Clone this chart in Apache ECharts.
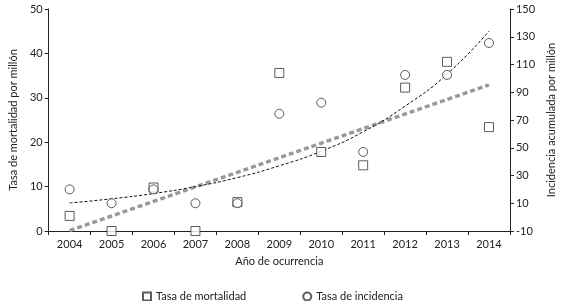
<!DOCTYPE html>
<html>
<head>
<meta charset="utf-8">
<script src="https://cdn.jsdelivr.net/npm/echarts@6/dist/echarts.min.js"></script>
<style>
  html, body { margin: 0; padding: 0; background: #fff; }
  #chart { width: 565px; height: 301px; }
</style>
</head>
<body>
<div id="chart"></div>
<script>
// años
const years = ['2004', '2005', '2006', '2007', '2008', '2009', '2010', '2011', '2012', '2013', '2014'];
// tasa de mortalidad por millón (eje izquierdo)
const mortalidad = [3.4, 0, 9.8, 0, 6.5, 35.6, 17.8, 14.8, 32.3, 38.1, 23.4];
// incidencia acumulada por millón (eje derecho)
const incidencia = [20, 10, 20, 10, 10, 74.5, 82.5, 47, 102.5, 102.5, 125.5];
// tendencia lineal de la mortalidad (extremos leídos)
const tendMortalidad = [['2004', 0.1], ['2014', 32.9]];
// tendencia exponencial de la incidencia
const tendIncidencia = [10.2, 13.2, 17, 22, 28.5, 37, 47.5, 61.5, 80, 103, 134];

const font = 'Lato, "Open Sans", sans-serif';
const chart = echarts.init(document.getElementById('chart'));

const option = {
  animation: false,
  textStyle: { fontFamily: font, color: '#222' },
  grid: { left: 41, right: 50, top: 9, bottom: 70 },
  legend: {
    left: 137,
    top: 286,
    itemGap: 56,
    itemWidth: 8,
    itemHeight: 8,
    textStyle: { fontFamily: font, fontSize: 11, color: '#222' },
    data: [
      { name: 'Tasa de mortalidad', icon: 'rect' },
      { name: 'Tasa de incidencia', icon: 'circle' }
    ]
  },
  xAxis: {
    type: 'category',
    data: years,
    boundaryGap: true,
    name: 'Año de ocurrencia',
    nameLocation: 'middle',
    nameGap: 25,
    nameTextStyle: { fontFamily: font, fontSize: 11, color: '#222' },
    axisLine: { lineStyle: { color: '#222' } },
    axisTick: { show: true, alignWithLabel: false, length: 4, lineStyle: { color: '#222' } },
    axisLabel: { fontFamily: font, fontSize: 11, color: '#222', margin: 8 },
    splitLine: { show: false }
  },
  yAxis: [
    {
      type: 'value',
      min: 0,
      max: 50,
      interval: 10,
      name: 'Tasa de mortalidad por millón',
      nameLocation: 'middle',
      nameGap: 27,
      nameTextStyle: { fontFamily: font, fontSize: 11, color: '#222' },
      axisLine: { show: true, lineStyle: { color: '#222' } },
      axisTick: { show: true, length: 4, lineStyle: { color: '#222' } },
      axisLabel: { fontFamily: font, fontSize: 11, color: '#222', margin: 6 },
      splitLine: { show: false }
    },
    {
      type: 'value',
      position: 'right',
      min: -10,
      max: 150,
      interval: 20,
      name: 'Incidencia acumulada por millón',
      nameLocation: 'middle',
      nameGap: 31,
      nameRotate: 90,
      nameTextStyle: { fontFamily: font, fontSize: 11, color: '#222' },
      axisLine: { show: true, lineStyle: { color: '#222' } },
      axisTick: { show: true, length: 4, lineStyle: { color: '#222' } },
      axisLabel: { fontFamily: font, fontSize: 11, color: '#222', margin: 6 },
      splitLine: { show: false }
    }
  ],
  series: [
    {
      name: 'Tendencia mortalidad',
      type: 'line',
      yAxisIndex: 0,
      data: tendMortalidad,
      symbol: 'none',
      lineStyle: { color: '#999', width: 3.5, type: [5, 3] },
      z: 1
    },
    {
      name: 'Tendencia incidencia',
      type: 'line',
      yAxisIndex: 1,
      data: tendIncidencia,
      smooth: true,
      symbol: 'none',
      lineStyle: { color: '#111', width: 1, type: [3, 2] },
      z: 2
    },
    {
      name: 'Tasa de mortalidad',
      type: 'scatter',
      yAxisIndex: 0,
      data: mortalidad,
      symbol: 'rect',
      symbolSize: 9,
      itemStyle: { color: '#fff', borderColor: '#333', borderWidth: 1 },
      z: 5
    },
    {
      name: 'Tasa de incidencia',
      type: 'scatter',
      yAxisIndex: 1,
      data: incidencia,
      symbol: 'circle',
      symbolSize: 9,
      itemStyle: { color: '#fff', borderColor: '#333', borderWidth: 1 },
      z: 5
    }
  ]
};

chart.setOption(option);
</script>
</body>
</html>
